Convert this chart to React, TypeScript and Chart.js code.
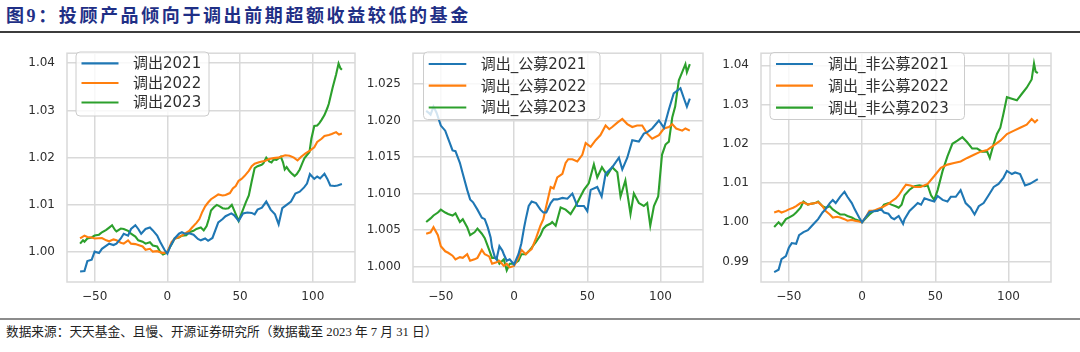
import React, { useEffect, useRef } from "react";
import { Chart, registerables } from "chart.js";
Chart.register(...registerables);

type Pt = [number, number];

// ---------- data ----------
const seriesColors = ["#1f77b4", "#ff7f0e", "#2ca02c"];
const xTicks = [-50, 0, 50, 100];
const p1YTicks = [1.0, 1.01, 1.02, 1.03, 1.04];
const p2YTicks = [1.0, 1.005, 1.01, 1.015, 1.02, 1.025];
const p3YTicks = [0.99, 1.0, 1.01, 1.02, 1.03, 1.04];
const p1Labels = ["调出2021", "调出2022", "调出2023"];
const p2Labels = ["调出_公募2021", "调出_公募2022", "调出_公募2023"];
const p3Labels = ["调出_非公募2021", "调出_非公募2022", "调出_非公募2023"];

const p1Out2021: Pt[] = [[-60,0.9959],[-57,0.9960],[-55,0.9981],[-52,0.9984],[-50,1.0001],[-47,0.9998],[-45,1.0007],[-40,1.0018],[-37,1.0015],[-35,1.0018],[-32,1.0029],[-30,1.0039],[-27,1.0035],[-25,1.0049],[-22,1.0057],[-20,1.0049],[-18,1.0039],[-15,1.0049],[-12,1.0052],[-10,1.0046],[-7,1.0035],[-5,1.0022],[-2,1.0005],[0,0.9997],[2,1.0012],[5,1.0029],[8,1.0039],[10,1.0042],[12,1.0039],[15,1.0040],[18,1.0037],[21,1.0028],[23,1.0025],[26,1.0029],[28,1.0024],[31,1.0030],[35,1.0063],[38,1.0070],[40,1.0076],[44,1.0082],[46,1.0078],[49,1.0066],[52,1.0082],[55,1.0084],[58,1.0083],[60,1.0080],[62,1.0090],[65,1.0094],[68,1.0107],[71,1.0090],[74,1.0080],[76.5,1.0059],[79,1.0093],[82,1.0100],[85,1.0107],[88,1.0124],[91,1.0128],[94,1.0137],[96,1.0145],[98,1.0165],[101,1.0155],[103,1.0160],[105,1.0156],[108,1.0166],[110,1.0155],[112,1.0141],[115,1.0140],[117,1.0141],[120,1.0144]];
const p1Out2022: Pt[] = [[-60,1.0029],[-57,1.0035],[-55,1.0032],[-52,1.0031],[-50,1.0029],[-45,1.0030],[-42,1.0025],[-40,1.0023],[-37,1.0027],[-35,1.0025],[-32,1.0020],[-30,1.0018],[-27,1.0025],[-25,1.0018],[-22,1.0017],[-20,1.0015],[-17,1.0012],[-15,1.0005],[-12,1.0007],[-10,1.0001],[-7,1.0002],[-5,1.0000],[-3,0.9998],[0,1.0000],[3,1.0022],[5,1.0028],[8,1.0032],[10,1.0035],[12,1.0039],[15,1.0045],[17,1.0052],[20,1.0062],[22,1.0070],[24,1.0085],[26,1.0097],[28,1.0105],[30,1.0112],[33,1.0118],[35,1.0122],[38,1.0120],[40,1.0121],[43,1.0125],[45,1.0135],[47,1.0140],[49,1.0151],[51,1.0155],[53,1.0161],[56,1.0172],[58,1.0182],[60,1.0187],[63,1.0190],[65,1.0192],[67,1.0193],[70,1.0197],[73,1.0199],[76,1.0200],[79,1.0203],[81,1.0205],[84,1.0204],[87,1.0200],[89.5,1.0194],[92,1.0202],[95,1.0209],[98,1.0215],[101,1.0222],[103,1.0233],[106,1.0240],[108,1.0246],[111,1.0248],[113,1.0250],[116,1.0254],[118,1.0249],[120,1.0251]];
const p1Out2023: Pt[] = [[-60,1.0018],[-58,1.0025],[-57,1.0022],[-55,1.0029],[-52,1.0031],[-50,1.0035],[-47,1.0037],[-45,1.0042],[-42,1.0047],[-40,1.0052],[-38,1.0057],[-36,1.0047],[-35,1.0044],[-32,1.0050],[-30,1.0049],[-27,1.0045],[-25,1.0039],[-22,1.0033],[-20,1.0025],[-17,1.0022],[-15,1.0018],[-12,1.0021],[-10,1.0014],[-7,1.0012],[-5,1.0001],[-3,0.9995],[-1,0.9998],[0,1.0001],[3,1.0017],[5,1.0029],[8,1.0031],[10,1.0035],[13,1.0036],[15,1.0042],[18,1.0045],[20,1.0049],[23,1.0052],[25,1.0046],[27,1.0055],[28.5,1.0070],[30,1.0088],[32,1.0095],[34,1.0100],[36,1.0097],[38,1.0093],[40,1.0092],[42,1.0093],[44.3,1.0100],[46,1.0088],[49,1.0066],[52,1.0090],[54,1.0106],[56,1.0120],[58,1.0150],[60,1.0178],[62,1.0182],[64.8,1.0185],[66,1.0188],[68,1.0200],[70,1.0192],[71.6,1.0190],[73,1.0196],[75,1.0195],[78,1.0202],[79.5,1.0190],[80.7,1.0175],[82,1.0180],[84,1.0171],[86,1.0165],[87.5,1.0161],[89,1.0165],[91,1.0175],[93,1.0190],[94.3,1.0199],[97.7,1.0212],[99,1.0240],[101,1.0267],[103,1.0268],[104.5,1.0273],[106,1.0280],[108,1.0290],[110,1.0305],[111,1.0314],[113.6,1.0348],[116,1.0376],[117.7,1.0399],[119,1.0389],[120,1.0386]];

const p2Pub2021: Pt[] = [[-60,1.0213],[-58,1.0210],[-57,1.0208],[-55,1.0219],[-53,1.0211],[-50,1.0193],[-47,1.0186],[-45,1.0175],[-42,1.0159],[-40,1.0158],[-37,1.0142],[-35,1.0127],[-32,1.0105],[-30,1.0092],[-28,1.0088],[-25,1.0078],[-22,1.0067],[-20,1.0065],[-18,1.0054],[-16,1.0040],[-15,1.0026],[-13,1.0012],[-12,1.0010],[-10,1.0028],[-8,1.0022],[-7,1.0017],[-5,1.0008],[-3,1.0010],[0,1.0003],[3,1.0017],[5,1.0032],[7,1.0055],[8,1.0065],[10,1.0083],[12,1.0089],[15,1.0087],[18,1.0078],[20,1.0074],[22,1.0074],[25,1.0087],[27,1.0092],[29.5,1.0092],[33,1.0094],[36.4,1.0093],[39.8,1.0100],[43.2,1.0083],[47.7,1.0083],[50,1.0076],[52.3,1.0105],[56.8,1.0109],[59.8,1.0096],[62.5,1.0127],[67,1.0136],[71.6,1.0149],[73.9,1.0133],[77.3,1.0149],[80.7,1.0173],[85.2,1.0171],[88.6,1.0182],[91,1.0184],[94.3,1.0189],[98.9,1.0200],[102.3,1.0190],[105.7,1.0215],[109,1.0237],[113.6,1.0244],[116,1.0230],[118,1.0219],[120,1.0230]];
const p2Pub2022: Pt[] = [[-60,1.0045],[-57,1.0047],[-55,1.0054],[-52,1.0043],[-50,1.0028],[-47,1.0021],[-45,1.0019],[-42,1.0015],[-40,1.0010],[-37,1.0013],[-35,1.0012],[-32,1.0017],[-30,1.0008],[-27,1.0010],[-25,1.0012],[-22,1.0023],[-20,1.0017],[-17,1.0014],[-15,1.0004],[-12,1.0006],[-10,1.0008],[-7,1.0001],[-5,1.0004],[-3,0.9999],[0,1.0001],[3,1.0012],[5,1.0023],[8,1.0017],[10,1.0021],[12,1.0024],[15,1.0039],[18,1.0056],[20,1.0065],[22,1.0083],[25,1.0109],[27,1.0107],[29.5,1.0122],[33,1.0127],[35.2,1.0142],[37,1.0147],[39.8,1.0147],[43.2,1.0144],[46.6,1.0153],[48.9,1.0169],[52.3,1.0164],[55.7,1.0173],[59,1.0180],[62.5,1.0193],[65,1.0188],[67,1.0191],[70.5,1.0197],[73.9,1.0202],[77.3,1.0195],[80.7,1.0191],[84,1.0193],[87.5,1.0193],[90.9,1.0182],[94.3,1.0175],[98.9,1.0180],[102.3,1.0189],[105.7,1.0191],[108,1.0195],[110.7,1.0189],[114.8,1.0186],[117,1.0189],[120,1.0186]];
const p2Pub2023: Pt[] = [[-60,1.0061],[-57,1.0066],[-55,1.0070],[-52,1.0074],[-50,1.0078],[-47,1.0074],[-45,1.0072],[-42,1.0070],[-40,1.0073],[-37,1.0061],[-35,1.0065],[-32,1.0054],[-30,1.0043],[-27,1.0047],[-25,1.0052],[-22,1.0045],[-20,1.0039],[-17,1.0023],[-15,1.0012],[-12,1.0012],[-10,1.0004],[-7,1.0010],[-5,0.9995],[-3,1.0004],[0,1.0004],[3,1.0008],[5,1.0017],[8,1.0017],[10,1.0021],[12,1.0026],[15,1.0034],[18,1.0043],[20,1.0052],[22,1.0056],[25,1.0059],[26,1.0061],[28.4,1.0056],[31.8,1.0081],[35.2,1.0078],[38.6,1.0072],[42,1.0083],[44.3,1.0092],[47.7,1.0105],[51,1.0114],[54.5,1.0140],[56.8,1.0122],[60,1.0136],[63.6,1.0125],[67,1.0136],[70.5,1.0129],[72.7,1.0096],[76,1.0118],[79.5,1.0072],[81.8,1.0100],[85.2,1.0087],[88.6,1.0083],[90.9,1.0087],[93,1.0056],[95.5,1.0083],[98.4,1.0096],[101,1.0153],[103.4,1.0167],[105.7,1.0171],[108,1.0204],[110,1.0219],[112.5,1.0255],[114.8,1.0266],[117,1.0277],[118,1.0266],[120,1.0277]];

const p3NonPub2021: Pt[] = [[-60,0.9873],[-57,0.9879],[-55,0.9906],[-52,0.9914],[-50,0.9935],[-48,0.9947],[-45,0.9945],[-43,0.9967],[-40,0.9975],[-37,0.9980],[-35,0.9988],[-32,1.0000],[-30,1.0008],[-27,1.0025],[-25,1.0033],[-22,1.0049],[-20,1.0057],[-18,1.0049],[-15,1.0065],[-12,1.0078],[-10,1.0065],[-7,1.0049],[-5,1.0033],[-2,1.0012],[0,1.0000],[3,1.0016],[5,1.0026],[8,1.0028],[10,1.0029],[13,1.0033],[15,1.0025],[18,1.0022],[20,1.0012],[22,1.0008],[25,1.0016],[28,0.9996],[29,1.0008],[32.4,1.0029],[35.8,1.0041],[38,1.0049],[40.3,1.0045],[42.6,1.0061],[45.9,1.0057],[49.3,1.0053],[51.6,1.0067],[55,1.0057],[58.3,1.0053],[60.6,1.0065],[64,1.0065],[67.3,1.0082],[70.7,1.0049],[74,1.0037],[76.8,1.0020],[79.7,1.0041],[83,1.0049],[86.4,1.0069],[89.9,1.0090],[93.2,1.0098],[96.6,1.0114],[98.9,1.0131],[102.3,1.0123],[104.5,1.0127],[107.9,1.0123],[111.3,1.0094],[114.6,1.0098],[120,1.0110]];
const p3NonPub2022: Pt[] = [[-60,1.0025],[-57,1.0029],[-55,1.0025],[-52,1.0029],[-50,1.0033],[-47,1.0037],[-45,1.0041],[-42,1.0049],[-40,1.0051],[-37,1.0045],[-35,1.0047],[-32,1.0049],[-30,1.0051],[-27,1.0041],[-25,1.0029],[-22,1.0020],[-20,1.0012],[-17,1.0014],[-15,1.0012],[-12,1.0008],[-10,1.0004],[-7,1.0006],[-5,1.0004],[-2,1.0002],[0,1.0000],[3,1.0016],[5,1.0029],[8,1.0029],[10,1.0033],[13,1.0037],[15,1.0041],[18,1.0047],[20,1.0053],[23,1.0061],[25,1.0069],[28,1.0086],[30,1.0096],[33,1.0094],[36,1.0090],[40,1.0090],[44.8,1.0098],[49.3,1.0118],[53.8,1.0139],[58.3,1.0147],[62.8,1.0151],[67.3,1.0155],[71.8,1.0164],[76.4,1.0172],[80.9,1.0180],[85.4,1.0184],[89.9,1.0196],[94.4,1.0208],[98.9,1.0225],[103.4,1.0233],[107.9,1.0241],[112.4,1.0249],[115.8,1.0263],[118,1.0255],[120,1.0262]];
const p3NonPub2023: Pt[] = [[-60,0.9988],[-58,0.9996],[-57,1.0000],[-55,0.9992],[-52,1.0008],[-50,1.0012],[-47,1.0018],[-45,1.0025],[-42,1.0037],[-40,1.0053],[-37,1.0045],[-35,1.0047],[-32,1.0049],[-30,1.0053],[-27,1.0041],[-25,1.0037],[-22,1.0041],[-20,1.0033],[-17,1.0025],[-15,1.0020],[-12,1.0020],[-10,1.0016],[-7,1.0012],[-5,1.0008],[-2,1.0004],[0,1.0000],[3,1.0012],[5,1.0020],[8,1.0029],[10,1.0029],[13,1.0034],[15,1.0045],[18,1.0049],[20,1.0045],[23,1.0041],[25,1.0037],[27,1.0045],[29,1.0069],[32.4,1.0083],[35.8,1.0092],[39.1,1.0094],[42.6,1.0092],[44.8,1.0094],[47.1,1.0069],[49.3,1.0057],[51.6,1.0082],[55,1.0131],[58.3,1.0168],[61.7,1.0200],[65.1,1.0208],[68.5,1.0217],[71.8,1.0204],[75.2,1.0188],[78.6,1.0188],[82,1.0180],[85.4,1.0180],[87.2,1.0164],[89.9,1.0200],[92.1,1.0225],[94.4,1.0241],[96.6,1.0278],[98.9,1.0319],[102.3,1.0315],[105.7,1.0311],[109,1.0327],[112.4,1.0343],[115.8,1.0364],[117.4,1.0405],[118.5,1.0384],[120,1.0380]];

const titleText = "图9：投顾产品倾向于调出前期超额收益较低的基金";
const sourceText = "数据来源：天天基金、且慢、开源证券研究所（数据截至 2023 年 7 月 31 日）";

// ---------- styling / layout ----------
const GRID = "#d9d9d9";
const TEXT = "#2e2e2e";
const TICK_FONT = { family: "'DejaVu Sans', 'Noto Sans CJK SC', sans-serif", size: 12 };
const LEGEND_FONT = "15px 'DejaVu Sans', 'Noto Sans CJK SC', sans-serif";
const CANVAS_TOP = 34;
const CANVAS_H = 278;

type LegendLayout = { bx: number; by: number; bw: number; bh: number; rows: number[]; l0: number; l1: number; tx: number };

type PanelProps = {
  left: number;
  width: number;
  yAxisW: number;
  padRight: number;
  series: Pt[][];
  labels: string[];
  yTicks: number[];
  decimals: number;
  yMin: number;
  yMax: number;
  legend: LegendLayout;
};

function Panel(p: PanelProps) {
  const ref = useRef<HTMLCanvasElement | null>(null);
  useEffect(() => {
    if (!ref.current) return;
    const lg = p.legend;
    const plugin = {
      id: "frameLegend",
      beforeDatasetsDraw(chart: any) {
        const { ctx, chartArea: a } = chart;
        ctx.save();
        ctx.strokeStyle = GRID;
        ctx.lineWidth = 1.5;
        ctx.strokeRect(a.left, a.top, a.right - a.left, a.bottom - a.top);
        ctx.restore();
      },
      afterDatasetsDraw(chart: any) {
        const { ctx } = chart;
        ctx.save();
        ctx.beginPath();
        const r = 4;
        const x = lg.bx, y = lg.by, w = lg.bw, h = lg.bh;
        ctx.moveTo(x + r, y);
        ctx.arcTo(x + w, y, x + w, y + h, r);
        ctx.arcTo(x + w, y + h, x, y + h, r);
        ctx.arcTo(x, y + h, x, y, r);
        ctx.arcTo(x, y, x + w, y, r);
        ctx.closePath();
        ctx.fillStyle = "rgba(255,255,255,0.8)";
        ctx.fill();
        ctx.strokeStyle = "#cccccc";
        ctx.lineWidth = 1;
        ctx.stroke();
        chart.data.datasets.forEach((ds: any, i: number) => {
          const ry = lg.rows[i];
          ctx.strokeStyle = ds.borderColor;
          ctx.lineWidth = 2.2;
          ctx.beginPath();
          ctx.moveTo(lg.l0, ry);
          ctx.lineTo(lg.l1, ry);
          ctx.stroke();
          ctx.fillStyle = TEXT;
          ctx.font = LEGEND_FONT;
          ctx.textBaseline = "middle";
          ctx.textAlign = "left";
          ctx.fillText(ds.label, lg.tx, ry + 1);
        });
        ctx.restore();
      },
    };
    const chart = new Chart(ref.current, {
      type: "line",
      data: {
        datasets: p.series.map((s, i) => ({
          label: p.labels[i],
          data: s.map(([x, y]) => ({ x, y })),
          borderColor: seriesColors[i],
          backgroundColor: seriesColors[i],
          borderWidth: 2.1,
          pointRadius: 0,
          tension: 0,
          fill: false,
        })),
      },
      options: {
        animation: false,
        responsive: false,
        maintainAspectRatio: false,
        layout: { padding: { top: 10, right: p.padRight, left: 0, bottom: 0 } },
        plugins: { legend: { display: false }, tooltip: { enabled: false } },
        scales: {
          x: {
            type: "linear",
            min: -69,
            max: 129,
            afterBuildTicks: (s: any) => { s.ticks = xTicks.map((v) => ({ value: v })); },
            afterFit: (s: any) => { s.height = 30; },
            grid: { color: GRID, lineWidth: 1.5, drawTicks: false },
            border: { display: false },
            ticks: {
              padding: 8,
              color: TEXT,
              font: TICK_FONT,
              callback: (v: any) => (Number(v) < 0 ? "\u2212" + Math.abs(Number(v)) : String(v)),
            },
          },
          y: {
            type: "linear",
            min: p.yMin,
            max: p.yMax,
            afterBuildTicks: (s: any) => { s.ticks = p.yTicks.map((v) => ({ value: v })); },
            afterFit: (s: any) => { s.width = p.yAxisW; },
            grid: { color: GRID, lineWidth: 1.5, drawTicks: false },
            border: { display: false },
            ticks: {
              padding: 12,
              color: TEXT,
              font: TICK_FONT,
              callback: (v: any) => Number(v).toFixed(p.decimals),
            },
          },
        },
      },
      plugins: [plugin],
    } as any);
    return () => chart.destroy();
  }, []);
  return (
    <canvas
      ref={ref}
      width={p.width}
      height={CANVAS_H}
      style={{ position: "absolute", left: p.left, top: CANVAS_TOP, width: p.width, height: CANVAS_H }}
    />
  );
}

export default function App() {
  return (
    <div style={{ position: "absolute", left: 0, top: 0, width: 1080, height: 352, background: "#ffffff", overflow: "hidden" }}>
      <div
        style={{
          position: "absolute",
          left: 6,
          top: 5,
          height: 22,
          lineHeight: "22px",
          fontSize: 18,
          fontWeight: 700,
          letterSpacing: 2.6,
          color: "#1f2f86",
          fontFamily: "'Liberation Serif', 'Noto Sans CJK SC', serif",
          whiteSpace: "nowrap",
        }}
      >
        {titleText}
      </div>
      <div style={{ position: "absolute", left: 0, top: 31, width: 1080, height: 2, background: "#3c3c3c" }} />
      <Panel
        left={0}
        width={358}
        yAxisW={67}
        padRight={3}
        series={[p1Out2021, p1Out2022, p1Out2023]}
        labels={p1Labels}
        yTicks={p1YTicks}
        decimals={2}
        yMin={0.99368}
        yMax={1.0421}
        legend={{ bx: 76, by: 18, bw: 133, bh: 64, rows: [29.3, 49, 68.5], l0: 81.5, l1: 118.5, tx: 133 }}
      />
      <Panel
        left={358}
        width={350}
        yAxisW={55}
        padRight={5}
        series={[p2Pub2021, p2Pub2022, p2Pub2023]}
        labels={p2Labels}
        yTicks={p2YTicks}
        decimals={3}
        yMin={0.9979}
        yMax={1.0292}
        legend={{ bx: 65.5, by: 18, bw: 176.5, bh: 67.5, rows: [30, 51.7, 73.5], l0: 70.7, l1: 108.3, tx: 122.7 }}
      />
      <Panel
        left={708}
        width={372}
        yAxisW={53}
        padRight={29}
        series={[p3NonPub2021, p3NonPub2022, p3NonPub2023]}
        labels={p3Labels}
        yTicks={p3YTicks}
        decimals={2}
        yMin={0.98478}
        yMax={1.0431}
        legend={{ bx: 62, by: 18.5, bw: 194.5, bh: 67, rows: [30, 51.7, 73.7], l0: 68, l1: 105, tx: 120 }}
      />
      <div style={{ position: "absolute", left: 0, top: 318, width: 1080, height: 1.5, background: "#8c8c8c" }} />
      <div
        style={{
          position: "absolute",
          left: 6,
          top: 324,
          height: 17,
          lineHeight: "17px",
          fontSize: 12.7,
          color: "#222222",
          fontFamily: "'Liberation Serif', 'Noto Sans CJK SC', serif",
          whiteSpace: "nowrap",
        }}
      >
        {sourceText}
      </div>
    </div>
  );
}
